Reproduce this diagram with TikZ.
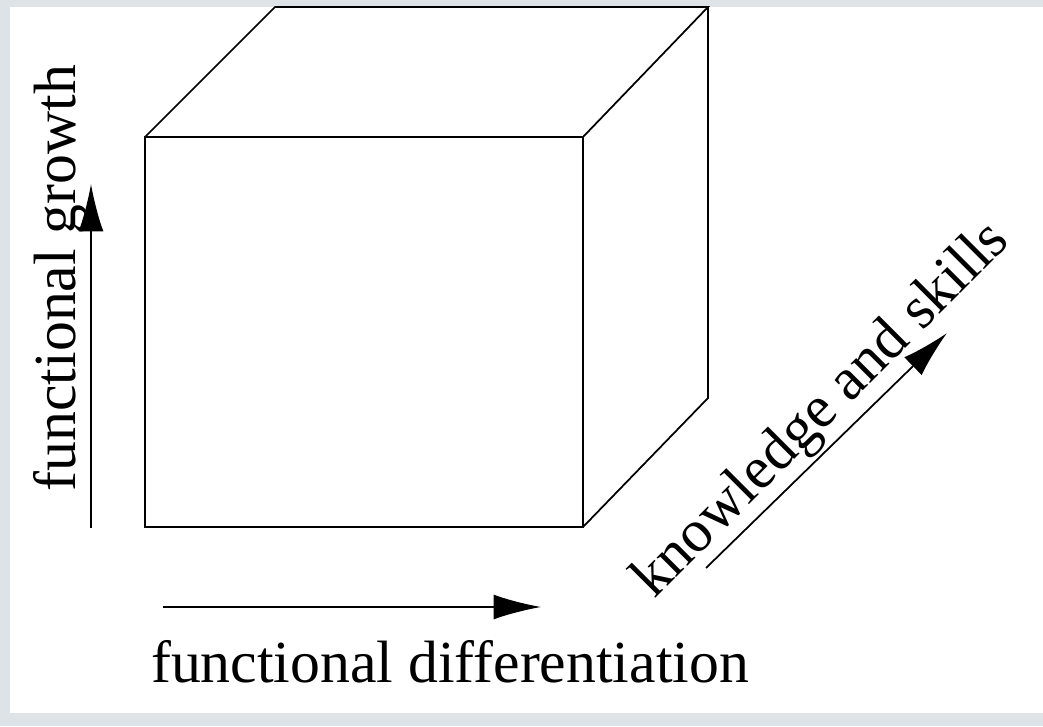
\documentclass[tikz,border=0pt]{standalone}
\usepackage{fontspec}
\setmainfont{Liberation Serif}
\usetikzlibrary{arrows.meta, positioning}
\definecolor{cframe}{HTML}{DDE3E6}
\tikzset{
  every picture/.style={line width=1pt},
  edge/.style={draw=black, line join=miter},
  axis/.style={-{Latex[length=0.95cm, width=0.5cm]}, draw=black},
  lbl/.style={font=\fontsize{34}{40}\selectfont, inner sep=0pt},
}

\begin{document}
\begin{tikzpicture}[x=0.02cm, y=-0.02cm]
  % frame
  \fill[cframe] (0,0) rectangle (1043,726);
  \fill[white] (10,7) rectangle (1043,713);
  \useasboundingbox (0,0) rectangle (1043,726);
  % cube
  \coordinate (f1) at (145,527);
  \coordinate (f2) at (583,527);
  \coordinate (f3) at (583,137);
  \coordinate (f4) at (145,137);
  \coordinate (b2) at (708,398);
  \coordinate (b3) at (708,7);
  \coordinate (b4) at (275,7);
  \draw[edge] (f1) -- (f2) -- (f3) -- (f4) -- cycle;
  \draw[edge] (f4) -- (b4) -- (b3) -- (f3);
  \draw[edge] (b3) -- (b2) -- (f2);
  % axes
  \coordinate (g0) at (91,528);
  \coordinate (g1) at (91,184);
  \coordinate (d0) at (163,607);
  \coordinate (d1) at (541,607);
  \coordinate (k0) at (706,568);
  \coordinate (k1) at (947,333);
  \draw[axis] (g0) -- (g1);
  \draw[axis] (d0) -- (d1);
  \draw[axis] (k0) -- (k1);
  % labels
  \node[lbl, rotate=90, anchor=base] (growth) at (75,278) {functional growth};
  \node[lbl, anchor=base] (diff) at (450,682) {functional differentiation};
  \node[lbl, rotate=45, anchor=base] (skills) at (833,421) {knowledge and skills};
\end{tikzpicture}
\end{document}
